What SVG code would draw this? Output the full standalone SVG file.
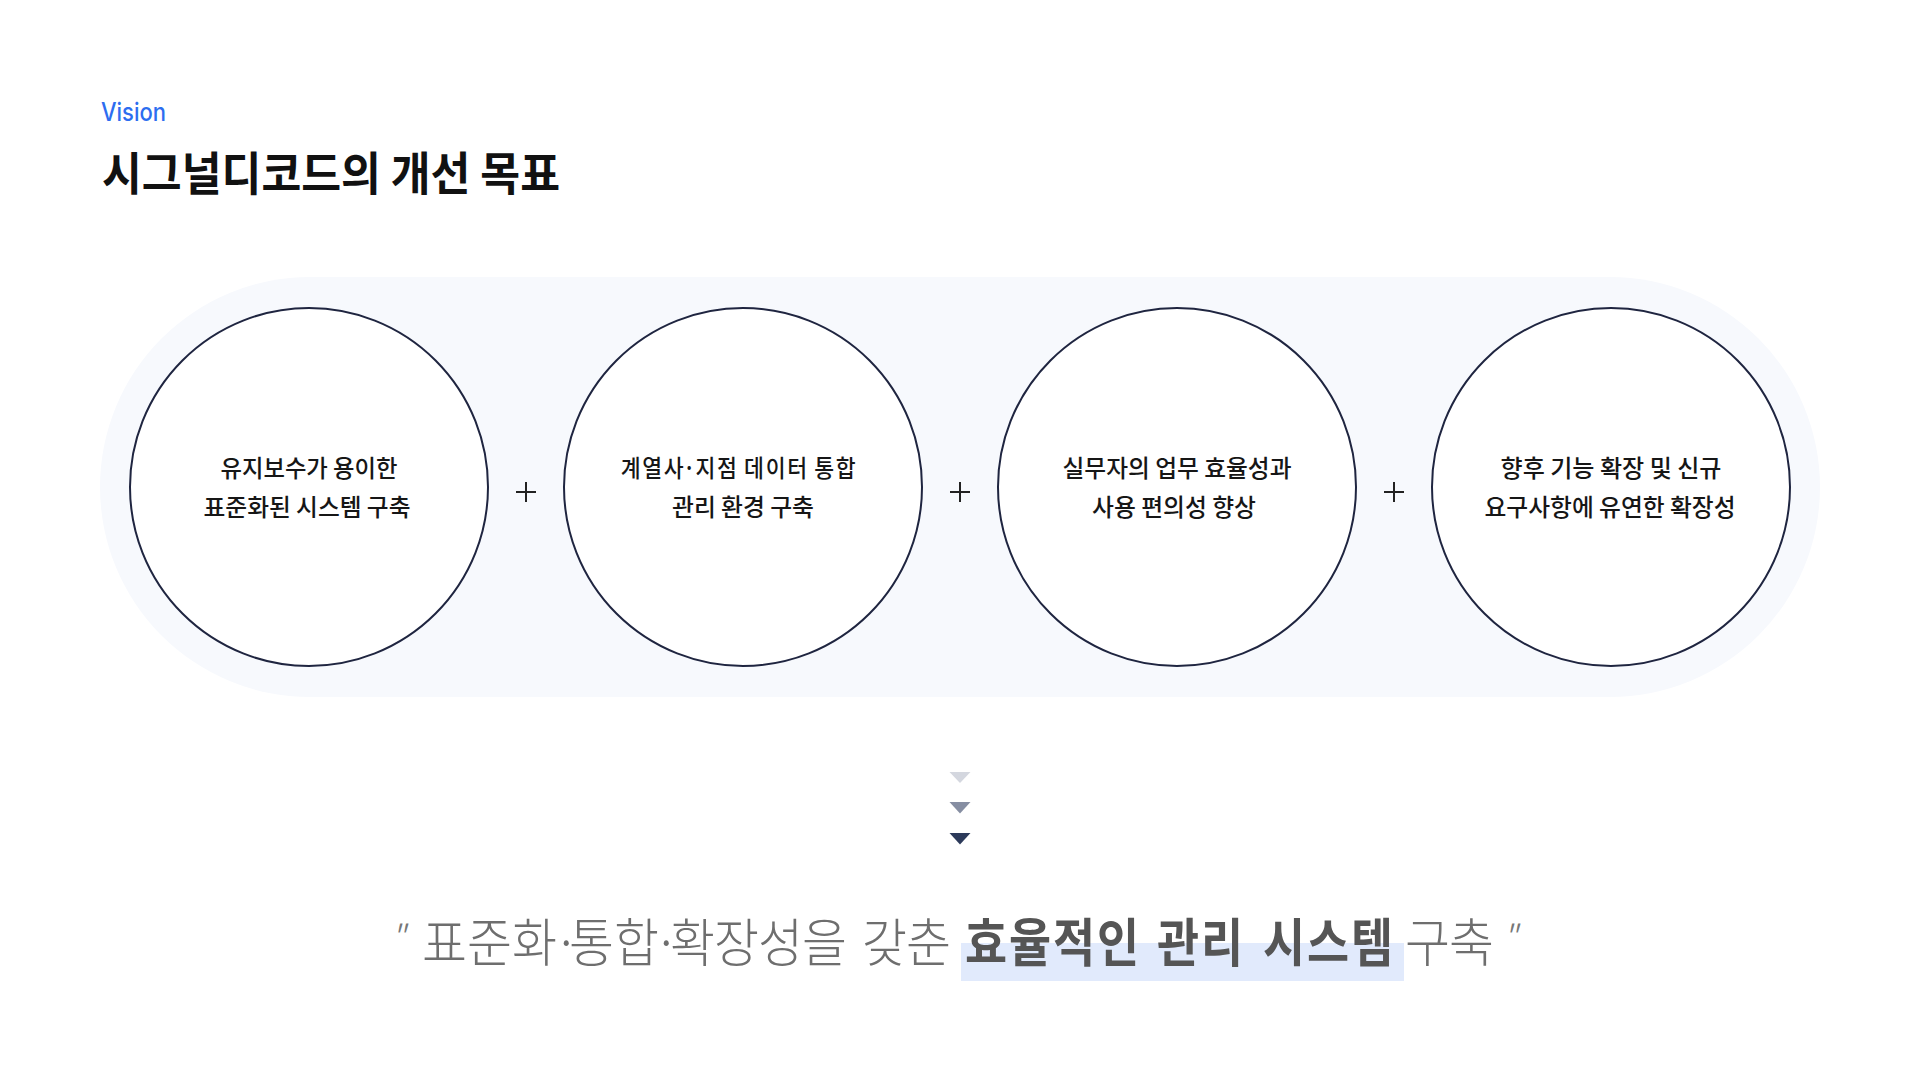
<svg xmlns="http://www.w3.org/2000/svg" width="1920" height="1080" viewBox="0 0 1920 1080">
  <defs>
    <style>
      .kr { font-family: "Noto Sans CJK KR", "Noto Sans", sans-serif; }
      .node-circle { fill: #ffffff; stroke: #1f2540; stroke-width: 2; }
      .node-text { font-family: "Noto Sans CJK KR", "Noto Sans", sans-serif; font-size: 24px; font-weight: 500; fill: #161616; text-anchor: middle; }
      .node-text-start { font-family: "Noto Sans CJK KR", "Noto Sans", sans-serif; font-size: 24px; font-weight: 500; fill: #161616; }
      .plus { stroke: #222222; stroke-width: 2; }
      .quote { font-family: "Noto Sans CJK KR", "Noto Sans", sans-serif; font-size: 36px; font-weight: 200; fill: #777777; font-style: italic; }
      .thin { font-family: "Noto Sans CJK KR", "Noto Sans", sans-serif; font-size: 52px; font-weight: 200; fill: #6e6e6e; }
      .strong { font-family: "Noto Sans CJK KR", "Noto Sans", sans-serif; font-size: 52px; font-weight: 700; fill: #555555; }
    </style>
  </defs>
  <rect width="1920" height="1080" fill="#ffffff"/>

  <g id="header">
    <text x="101" y="121" font-family="Inter, 'Noto Sans', sans-serif" font-size="25" font-weight="500" fill="#2d6df0" textLength="65" lengthAdjust="spacingAndGlyphs">Vision</text>
    <text x="102" y="190" class="kr" font-size="46" font-weight="700" fill="#111111" textLength="458" lengthAdjust="spacingAndGlyphs">시그널디코드의 개선 목표</text>
  </g>

  <rect id="band" x="100" y="277" width="1720" height="420" rx="210" ry="210" fill="#f7f9fd"/>

  <g id="node-1">
    <circle class="node-circle" cx="309" cy="487" r="179"/>
    <text class="node-text" x="309" y="477" textLength="177" lengthAdjust="spacingAndGlyphs">유지보수가 용이한</text>
    <text class="node-text" x="307" y="516" textLength="207" lengthAdjust="spacingAndGlyphs">표준화된 시스템 구축</text>
  </g>
  <g id="node-2">
    <circle class="node-circle" cx="743" cy="487" r="179"/>
    <text class="node-text-start" transform="scale(0.9,1)" y="477" x="689.6 713.6 737.6 758.9 772.7 796.7 822.2 826.7 850.7 874.7 900 904.7 928.7">계열사·지점 데이터 통합</text>
    <text class="node-text" x="743" y="516" textLength="142" lengthAdjust="spacingAndGlyphs">관리 환경 구축</text>
  </g>
  <g id="node-3">
    <circle class="node-circle" cx="1177" cy="487" r="179"/>
    <text class="node-text" x="1177" y="477" textLength="229" lengthAdjust="spacingAndGlyphs">실무자의 업무 효율성과</text>
    <text class="node-text" x="1174" y="516" textLength="164" lengthAdjust="spacingAndGlyphs">사용 편의성 향상</text>
  </g>
  <g id="node-4">
    <circle class="node-circle" cx="1611" cy="487" r="179"/>
    <text class="node-text" x="1611" y="477" textLength="221" lengthAdjust="spacingAndGlyphs">향후 기능 확장 및 신규</text>
    <text class="node-text" x="1610" y="516" textLength="251" lengthAdjust="spacingAndGlyphs">요구사항에 유연한 확장성</text>
  </g>

  <g id="connectors">
    <line class="plus" x1="516" y1="492" x2="536" y2="492"/>
    <line class="plus" x1="526" y1="482" x2="526" y2="502"/>
    <line class="plus" x1="950" y1="492" x2="970" y2="492"/>
    <line class="plus" x1="960" y1="482" x2="960" y2="502"/>
    <line class="plus" x1="1384" y1="492" x2="1404" y2="492"/>
    <line class="plus" x1="1394" y1="482" x2="1394" y2="502"/>
    <polygon points="949.5,772 970.5,772 960,783" fill="#d4d7df"/>
    <polygon points="949.5,802 970.5,802 960,813.5" fill="#868ea2"/>
    <polygon points="949.5,833 970.5,833 960,844.5" fill="#2c3a5a"/>
  </g>

  <g id="conclusion">
    <rect x="961" y="943" width="443" height="38" fill="#e1eafc"/>
    <text class="quote" x="390" y="951">"</text>
    <text class="thin" transform="translate(0,962) scale(0.94,1)" y="0" x="448.9 496.8 544.7 588.5 605.3 653.2 695 712.8 759.6 806.4 853.2 905 917 963.8">표준화·통합·확장성을 갖춘</text>
    <text class="strong" transform="translate(0,962) scale(0.88,1)" y="0" x="1096.6 1146.6 1196.6 1246.6 1295.5 1314.8 1364.8 1414.8 1435.2 1485.2 1535.2">효율적인 관리 시스템</text>
    <text class="thin" transform="translate(0,962) scale(0.94,1)" y="0" x="1494.7 1541.5">구축</text>
    <text class="quote" x="1502" y="951">"</text>
  </g>
</svg>
